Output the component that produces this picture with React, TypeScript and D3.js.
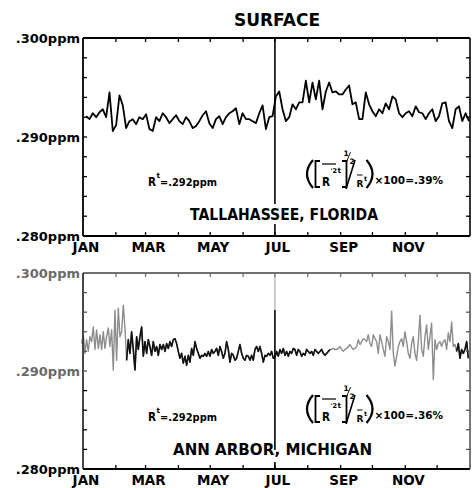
import React from "react";
import * as d3 from "d3";

// one sample every ~3 days (Tallahassee) / ~1.6 days (Ann Arbor)
const tallahassee = [
  0.2921, 0.2918, 0.2924, 0.292, 0.2925, 0.2928, 0.292, 0.2945, 0.2906, 0.2912,
  0.2942, 0.2932, 0.2909, 0.2916, 0.2918, 0.2913, 0.292, 0.2918, 0.2923, 0.2908,
  0.2906, 0.292, 0.2916, 0.2924, 0.292, 0.2914, 0.2918, 0.2922, 0.2916, 0.2913,
  0.292, 0.2916, 0.2909, 0.2911, 0.2916, 0.2922, 0.2926, 0.2914, 0.2909, 0.2918,
  0.2921, 0.2913, 0.292, 0.2924, 0.2926, 0.2929, 0.2913, 0.2924, 0.2918, 0.2918,
  0.2916, 0.2914, 0.2924, 0.2932, 0.2908, 0.292, 0.2921,
  0.2941, 0.2946, 0.2928, 0.2916, 0.292, 0.2933, 0.2928, 0.2935, 0.2935, 0.2957,
  0.2935, 0.2955, 0.2938, 0.2957, 0.2928, 0.2946, 0.2955, 0.2945, 0.2946, 0.2943,
  0.2943, 0.2948, 0.2952, 0.2933, 0.2935, 0.2918, 0.2918, 0.2945, 0.2933, 0.2926,
  0.2921, 0.2928, 0.2924, 0.2934, 0.2928, 0.2941, 0.2938, 0.2924, 0.292, 0.2924,
  0.2926, 0.2921, 0.2931, 0.2925, 0.2924, 0.2918, 0.2924, 0.2928, 0.2916, 0.2921,
  0.2934, 0.2935, 0.2916, 0.2909, 0.2928, 0.2931, 0.2916, 0.2924, 0.2916,
];
const tallahasseeSpan = [3, 364];

const annArbor = [
  // Jan - mid Feb (faded ink)
  0.2928, 0.2937, 0.2918, 0.2932, 0.292, 0.2935, 0.293, 0.2945, 0.2922, 0.2942,
  0.2923, 0.2937, 0.2922, 0.294, 0.2923, 0.2935, 0.2944, 0.2925, 0.2942, 0.2901,
  0.2962, 0.2911, 0.2964, 0.2935, 0.294, 0.2967, 0.2944,
  // to end of June
  0.2911, 0.2932, 0.2918, 0.294, 0.2922, 0.2901, 0.2935, 0.2922, 0.2935, 0.2945,
  0.2915, 0.293, 0.2918, 0.2932, 0.2925, 0.2916, 0.293, 0.292, 0.2925, 0.2916,
  0.2927, 0.2922, 0.2927, 0.292, 0.2928, 0.2923, 0.293, 0.2925, 0.2932, 0.2933,
  0.2928, 0.292, 0.2913, 0.2918, 0.2908, 0.2915, 0.2906, 0.2916, 0.2909, 0.2923,
  0.2916, 0.293, 0.2923, 0.2918, 0.2913, 0.2916, 0.2915, 0.2918, 0.2915, 0.292,
  0.2915, 0.2922, 0.2918, 0.292, 0.2923, 0.2916, 0.2925, 0.292, 0.2913, 0.2918,
  0.293, 0.2922, 0.2909, 0.2918, 0.2916, 0.2911, 0.2913, 0.292, 0.2927, 0.2918,
  0.2913, 0.2911, 0.2916, 0.2915, 0.2911, 0.2916, 0.2911, 0.2922, 0.2925, 0.292,
  0.2925, 0.2918, 0.2909, 0.2916, 0.2915, 0.2918,
  // July - mid Aug
  0.2916, 0.292, 0.2913, 0.2914, 0.292, 0.2915, 0.2922, 0.2918, 0.2923, 0.2916,
  0.292, 0.2915, 0.292, 0.2918, 0.2923, 0.2922, 0.2916, 0.2922, 0.292, 0.2915,
  0.2918, 0.2916, 0.2922, 0.292, 0.2918, 0.292, 0.2916, 0.2922, 0.292, 0.2918,
  0.292, 0.2922, 0.2918, 0.2916, 0.2918, 0.292, 0.2922,
  // mid Aug - Dec (faded ink)
  0.2922, 0.2923, 0.2922, 0.2922, 0.2923, 0.2925, 0.2922, 0.292, 0.2922, 0.2923,
  0.2925, 0.2927, 0.2924, 0.2922, 0.2923, 0.2925, 0.2932, 0.2927, 0.293, 0.2933,
  0.2932, 0.293, 0.2937, 0.2928, 0.2925, 0.2937, 0.2933, 0.293, 0.2918, 0.2937,
  0.293, 0.2922, 0.2915, 0.2935, 0.293, 0.2922, 0.2961, 0.2918, 0.2905, 0.2915,
  0.2925, 0.293, 0.2933, 0.2925, 0.294, 0.293, 0.2918, 0.2913, 0.2928, 0.2935,
  0.2918, 0.2911, 0.293, 0.2957, 0.2922, 0.2915, 0.2935, 0.2947, 0.2922, 0.2935,
  0.2949, 0.2891, 0.2932, 0.2922, 0.2928, 0.293, 0.2925, 0.293, 0.2932, 0.2922,
  0.2939, 0.293, 0.295, 0.2925, 0.2927, 0.292, 0.2928, 0.2913, 0.2922, 0.2918,
  0.2922, 0.293, 0.2913,
];
const annArborSpan = [-1.3, 363.4];
const annArborFaded = [
  [-5, 40.5],
  [233.5, 351],
];

const yTickValues = [0.282, 0.284, 0.286, 0.288, 0.29, 0.292, 0.294, 0.296, 0.298];
const yLabelValues = [0.3, 0.29, 0.28];
const yLabels = [".300ppm", ".290ppm", ".280ppm"];
const monthLabels = ["JAN", "MAR", "MAY", "JUL", "SEP", "NOV"];
const stations = ["TALLAHASSEE, FLORIDA", "ANN ARBOR, MICHIGAN"];
const means = [".292ppm", ".292ppm"];
const ratios = [".39%", ".36%"];

const yearStart = new Date(Date.UTC(1967, 0, 1));
const yearEnd = new Date(Date.UTC(1968, 0, 1));
const x = d3.scaleUtc().domain([yearStart, yearEnd]).range([83, 470]);
const dayX = (d: number) => x(new Date(yearStart.getTime() + d * 864e5));
const months = d3.utcMonth.range(yearStart, yearEnd);

const FONT = "DejaVu Sans";

// annotation block, coordinates relative to the panel top
function Formula({ ratio, mean }: { ratio: string; mean: string }) {
  return (
    <g fontFamily={FONT} fontWeight="bold" fill="#000">
      <text x={148} y={148} fontSize={13}>
        <tspan textLength={8} lengthAdjust="spacingAndGlyphs">R</tspan>
        <tspan x={156.5} y={140} fontSize={7.5}>t</tspan>
        <tspan x={160} y={148} fontSize={10} textLength={57} lengthAdjust="spacingAndGlyphs">
          {"=" + mean}
        </tspan>
      </text>

      <g fill="none" stroke="#000">
        <path d="M313,122 Q301,136 313,150" strokeWidth={2.2} />
        <path d="M320,123 H315.5 V149 H320" strokeWidth={1.8} />
        <path d="M322,126 H336" strokeWidth={1.2} />
        <path d="M342,123 H346.5 V149 H342" strokeWidth={1.8} />
        <path d="M346,151 L355,122" strokeWidth={1.6} />
        <path d="M346.5,124 L350.5,114" strokeWidth={0.9} />
        <path d="M357,137 H362.5" strokeWidth={1} />
        <path d="M366.5,122 Q378.5,136 366.5,150" strokeWidth={2.2} />
      </g>
      <text x={322} y={148} fontSize={13}>
        <tspan textLength={8} lengthAdjust="spacingAndGlyphs">R</tspan>
        <tspan x={330.5} y={135} fontSize={6.5}>'2</tspan>
        <tspan x={337.5} y={135} fontSize={7.5}>t</tspan>
      </text>
      <text x={343.5} y={118} fontSize={7.5}>
        1<tspan x={349.5} y={126}>2</tspan>
      </text>
      <text x={356.5} y={149} fontSize={9}>
        R<tspan x={364} y={143} fontSize={6.5}>t</tspan>
      </text>
      <text x={374.5} y={146} fontSize={10} textLength={68.5} lengthAdjust="spacingAndGlyphs">
        {"\u00d7100=" + ratio}
      </text>
    </g>
  );
}

type PanelProps = {
  top: number;
  height: number;
  values: number[];
  span: number[];
  faded?: number[][];
  station: string;
  stationX: number;
  stationW: number;
  mean: string;
  ratio: string;
  julSegs: [number, number, string][];
  faint?: boolean;
  labelBaseline: number;
};

function Panel(p: PanelProps) {
  const bottom = p.top + p.height;
  const y = d3.scaleLinear().domain([0.28, 0.3]).range([bottom, p.top]);
  const n = p.values.length;
  const pts: [number, number][] = p.values.map((v, i) => [
    p.span[0] + (i * (p.span[1] - p.span[0])) / (n - 1),
    v,
  ]);
  const isFaded = (d: number) => (p.faded || []).some(([a, b]) => d >= a && d <= b);
  const line = d3
    .line<[number, number]>()
    .x((d) => dayX(d[0]))
    .y((d) => y(d[1]));
  const darkLine = d3
    .line<[number, number]>()
    .defined((d) => !isFaded(d[0]))
    .x((d) => dayX(d[0]))
    .y((d) => y(d[1]));
  const x0 = x(yearStart);
  const x1 = x(yearEnd);
  const topCol = p.faint ? "#6f6f6f" : "#000";
  const jx = x(months[6]);

  return (
    <g>
      {/* data */}
      {p.faded ? (
        <>
          <path d={line(pts) || ""} fill="none" stroke="#8d8d8d" strokeWidth={1.4} strokeLinejoin="round" />
          <path d={darkLine(pts) || ""} fill="none" stroke="#111" strokeWidth={1.6} strokeLinejoin="round" />
        </>
      ) : (
        <path d={line(pts) || ""} fill="none" stroke="#000" strokeWidth={1.8} strokeLinejoin="round" />
      )}

      {/* frame */}
      <line x1={x0} x2={x1} y1={p.top} y2={p.top} stroke={topCol} strokeWidth={1.8} />
      <line x1={x0} x2={x1} y1={bottom} y2={bottom} stroke="#000" strokeWidth={1.8} />
      <line x1={x0} x2={x0} y1={p.top} y2={bottom} stroke={p.faint ? "#333" : "#000"} strokeWidth={1.8} />
      <line x1={x1} x2={x1} y1={p.top} y2={bottom} stroke={p.faint ? "#555" : "#000"} strokeWidth={1.6} />

      {/* JUL divider */}
      {p.julSegs.map(([a, b, c], i) => (
        <line key={i} x1={jx} x2={jx} y1={p.top + a} y2={p.top + b} stroke={c} strokeWidth={c === "#000" ? 1.6 : 1} />
      ))}

      {/* y ticks */}
      {yTickValues.map((v) => (
        <g key={v}>
          <line x1={x0} x2={x0 + 4} y1={y(v)} y2={y(v)} stroke={p.faint && v > 0.289 ? "#555" : "#000"} strokeWidth={1.3} />
          <line x1={x1 - 4} x2={x1} y1={y(v)} y2={y(v)} stroke={p.faint ? "#555" : "#000"} strokeWidth={1.3} />
        </g>
      ))}

      {/* month ticks */}
      {months.slice(1).map((m) => (
        <g key={+m}>
          <line x1={x(m)} x2={x(m)} y1={p.top} y2={p.top + 4} stroke={topCol} strokeWidth={1.3} />
          <line x1={x(m)} x2={x(m)} y1={bottom - 4} y2={bottom} stroke="#000" strokeWidth={1.3} />
        </g>
      ))}

      {/* y labels */}
      {yLabelValues.map((v, i) => (
        <text
          key={v}
          x={80}
          y={y(v)}
          dy="0.36em"
          textAnchor="end"
          fontFamily={FONT}
          fontWeight="bold"
          fontSize={13}
          fill={p.faint && i < 2 ? "#6a6a6a" : "#000"}
        >
          {yLabels[i]}
        </text>
      ))}

      {/* month labels */}
      {months
        .filter((_, i) => i % 2 === 0)
        .map((m, i) => (
          <text
            key={+m}
            x={x(m) + 3}
            y={p.labelBaseline}
            textAnchor="middle"
            fontFamily={FONT}
            fontWeight="bold"
            fontSize={13.5}
          >
            {monthLabels[i]}
          </text>
        ))}

      <g transform={`translate(0,${p.top})`}>
        <Formula ratio={p.ratio} mean={p.mean} />
      </g>

      <text
        x={p.stationX}
        y={p.top + 182}
        textAnchor="middle"
        fontFamily={FONT}
        fontWeight="bold"
        fontSize={15.5}
        textLength={p.stationW}
        lengthAdjust="spacingAndGlyphs"
      >
        {p.station}
      </text>
    </g>
  );
}

export default function App() {
  return (
    <svg
      width={472}
      height={488}
      style={{ position: "absolute", left: 0, top: 0, background: "#fff" }}
    >
      <text x={277} y={26} textAnchor="middle" fontFamily={FONT} fontWeight="bold" fontSize={17}>
        SURFACE
      </text>
      <Panel
        top={38}
        height={198}
        values={tallahassee}
        span={tallahasseeSpan}
        station={stations[0]}
        stationX={284}
        stationW={188}
        mean={means[0]}
        ratio={ratios[0]}
        julSegs={[
          [0, 166, "#000"],
          [186, 198, "#000"],
        ]}
        labelBaseline={252}
      />
      <Panel
        top={273}
        height={196}
        values={annArbor}
        span={annArborSpan}
        faded={annArborFaded}
        station={stations[1]}
        stationX={272.5}
        stationW={199}
        mean={means[1]}
        ratio={ratios[1]}
        julSegs={[
          [0, 37, "#9a9a9a"],
          [37, 177, "#000"],
          [189, 196, "#000"],
        ]}
        faint
        labelBaseline={485}
      />
    </svg>
  );
}
